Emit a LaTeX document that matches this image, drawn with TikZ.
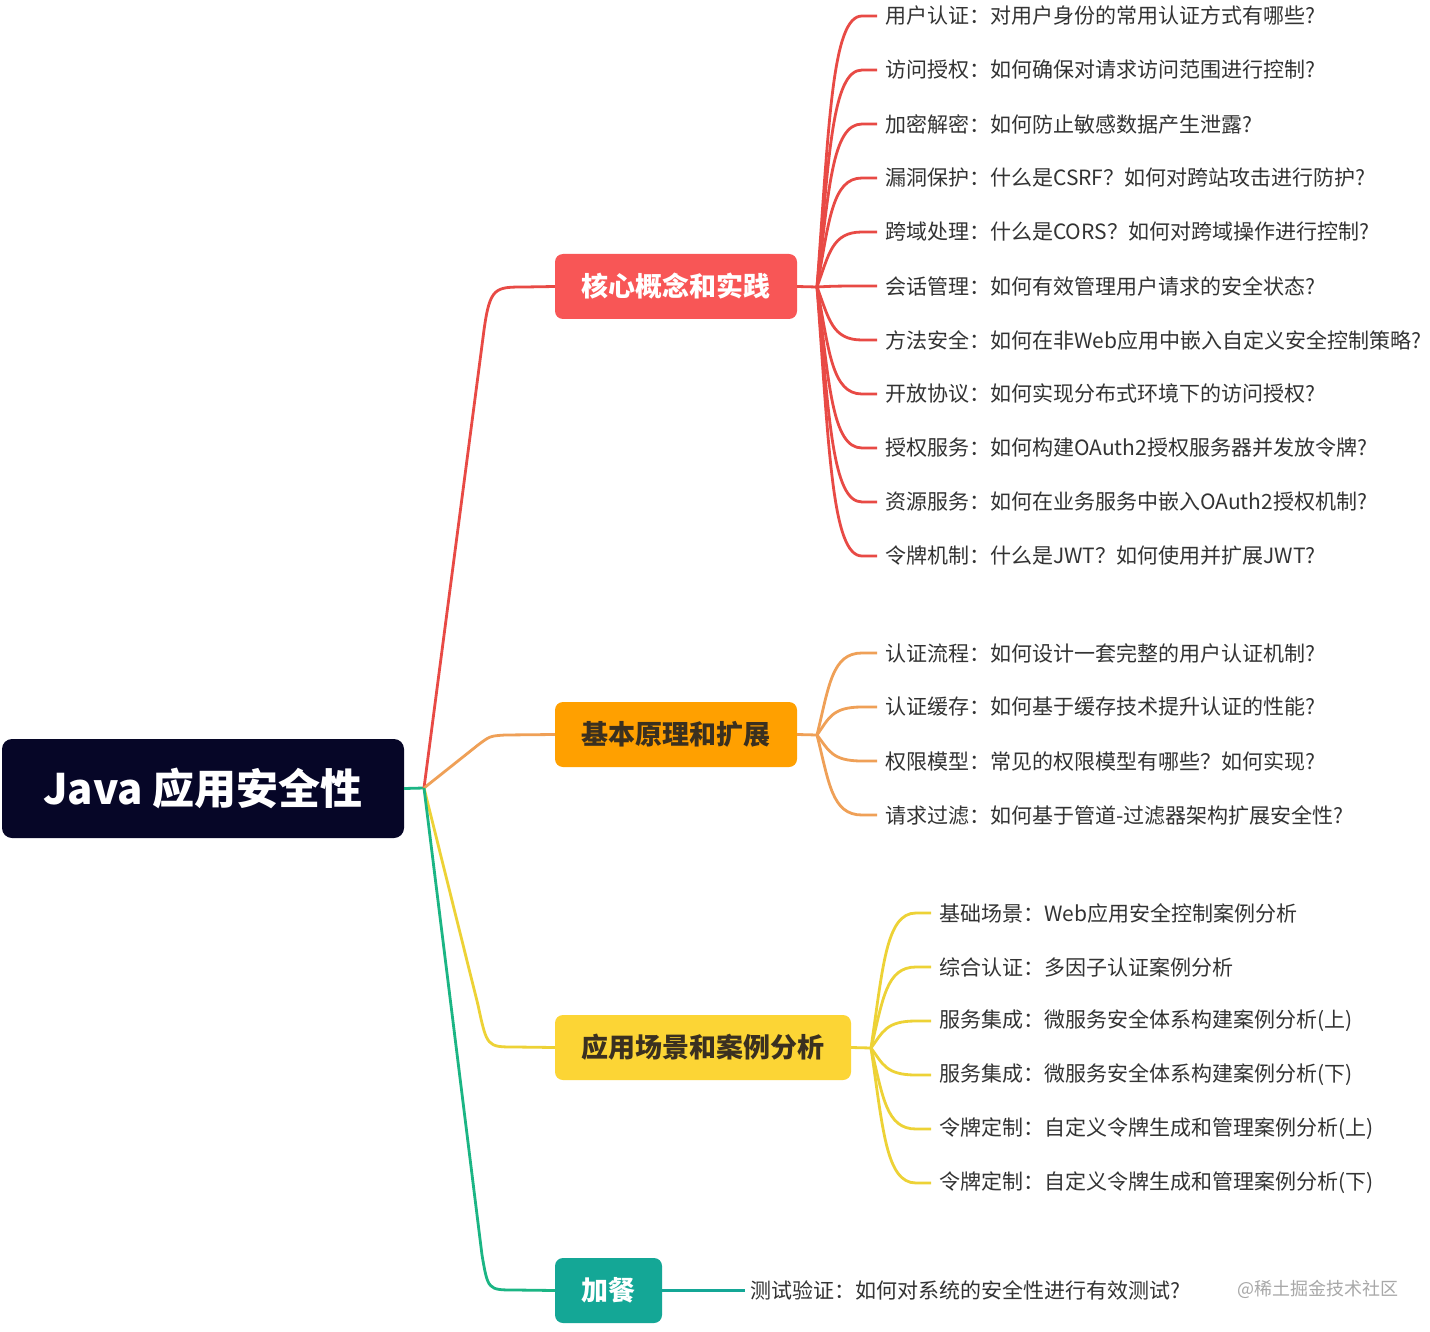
\documentclass[tikz,border=0pt]{standalone}
\usepackage{fontspec}
\setmainfont{Noto Sans CJK SC}
\usetikzlibrary{calc}
\definecolor{rootc}{HTML}{060627}
\definecolor{redbox}{HTML}{F85656}
\definecolor{redln}{HTML}{E84A45}
\definecolor{orangebox}{HTML}{FFA000}
\definecolor{orangeln}{HTML}{EFA057}
\definecolor{yellowbox}{HTML}{FCD535}
\definecolor{yellowln}{HTML}{EDD236}
\definecolor{tealbox}{HTML}{14A796}
\definecolor{greenln}{HTML}{1BB584}
\definecolor{leaftext}{HTML}{333333}
\definecolor{darktext}{HTML}{3A3020}
\definecolor{wmgray}{HTML}{A8A8A8}
\begin{document}
\begin{tikzpicture}[x=1pt,y=-1pt,
  rootbox/.style={fill=rootc, rounded corners=10pt, minimum width=402pt, minimum height=99pt, inner sep=0pt, text=white, font=\fontsize{42}{50}\selectfont\bfseries},
  branchbox/.style={rounded corners=8pt, minimum height=65pt, inner sep=0pt, font=\fontsize{27}{31}\selectfont\bfseries},
  leaf/.style={anchor=west, inner xsep=8pt, inner ysep=0pt, font=\fontsize{21}{24}\selectfont, text=leaftext},
  conR/.style={draw=redln, line width=2.8pt},
  conO/.style={draw=orangeln, line width=2.8pt},
  conY/.style={draw=yellowln, line width=2.8pt},
  conG/.style={draw=greenln, line width=2.8pt},
  conT/.style={draw=tealbox, line width=2.8pt}]
\path[fill=white] (0,0) rectangle (1430,1332);
\useasboundingbox (0,0) rectangle (1430,1332);

% root and branches
\node[rootbox] (root) at (203,788.5) {Java 应用安全性};
\node[branchbox, fill=redbox, text=white, minimum width=242pt] (b1) at (676,286.5) {核心概念和实践};
\node[branchbox, fill=orangebox, text=darktext, minimum width=242pt] (b2) at (676,734.5) {基本原理和扩展};
\node[branchbox, fill=yellowbox, text=darktext, minimum width=296pt] (b3) at (703,1047.5) {应用场景和案例分析};
\node[branchbox, fill=tealbox, text=white, minimum width=107pt] (b4) at (608.5,1290.5) {加餐};

\coordinate (J) at (424,788);
\draw[conG] (root.east) -- (J);
\draw[conR] (J) -- (484,330) .. controls (490,287) and (495,287) .. (525,287) -- (b1.west);
\draw[conO] (J) -- (478,745) .. controls (490,736) .. (505,735) -- (b2.west);
\draw[conY] (J) -- (478,1005) .. controls (487,1047) .. (515,1047) -- (b3.west);
\draw[conG] (J) -- (482,1255) .. controls (488,1290) .. (515,1290) -- (b4.west);

% red leaves
\coordinate (J1) at (817,287);
\draw[conR] (b1.east) -- (J1);
\foreach \y/\t [count=\i] in {
  16/{用户认证：对用户身份的常用认证方式有哪些?},
  70/{访问授权：如何确保对请求访问范围进行控制?},
  124/{加密解密：如何防止敏感数据产生泄露?},
  178/{漏洞保护：什么是CSRF？如何对跨站攻击进行防护?},
  232/{跨域处理：什么是CORS？如何对跨域操作进行控制?},
  286/{会话管理：如何有效管理用户请求的安全状态?},
  340/{方法安全：如何在非Web应用中嵌入自定义安全控制策略?},
  394/{开放协议：如何实现分布式环境下的访问授权?},
  448/{授权服务：如何构建OAuth2授权服务器并发放令牌?},
  502/{资源服务：如何在业务服务中嵌入OAuth2授权机制?},
  556/{令牌机制：什么是JWT？如何使用并扩展JWT?}}{
  \node[leaf] (r\i) at (877,\y) {\t};
  \draw[conR] (J1) .. controls ($(J1)+(12,{0.6*(\y-287)})$) and (832,\y) .. (862,\y) -- (r\i.west);
}

% orange leaves
\coordinate (J2) at (817,735);
\draw[conO] (b2.east) -- (J2);
\foreach \y/\t [count=\i] in {
  653/{认证流程：如何设计一套完整的用户认证机制?},
  707/{认证缓存：如何基于缓存技术提升认证的性能?},
  761/{权限模型：常见的权限模型有哪些？如何实现?},
  815/{请求过滤：如何基于管道-过滤器架构扩展安全性?}}{
  \node[leaf] (o\i) at (877,\y) {\t};
  \draw[conO] (J2) .. controls ($(J2)+(12,{0.6*(\y-735)})$) and (832,\y) .. (862,\y) -- (o\i.west);
}

% yellow leaves
\coordinate (J3) at (871,1048);
\draw[conY] (b3.east) -- (J3);
\foreach \y/\t [count=\i] in {
  913/{基础场景：Web应用安全控制案例分析},
  967/{综合认证：多因子认证案例分析},
  1021/{服务集成：微服务安全体系构建案例分析(上)},
  1075/{服务集成：微服务安全体系构建案例分析(下)},
  1129/{令牌定制：自定义令牌生成和管理案例分析(上)},
  1183/{令牌定制：自定义令牌生成和管理案例分析(下)}}{
  \node[leaf] (y\i) at (931,\y) {\t};
  \draw[conY] (J3) .. controls ($(J3)+(12,{0.6*(\y-1048)})$) and (886,\y) .. (916,\y) -- (y\i.west);
}

% teal leaf
\node[leaf, inner xsep=5pt] (t1) at (745,1290.5) {测试验证：如何对系统的安全性进行有效测试?};
\draw[conT] (b4.east) -- (t1.west);

% watermark
\node[anchor=west, inner sep=0pt, text=wmgray, font=\fontsize{18}{20}\selectfont] (wm) at (1237,1289) {@稀土掘金技术社区};
\end{tikzpicture}
\end{document}
